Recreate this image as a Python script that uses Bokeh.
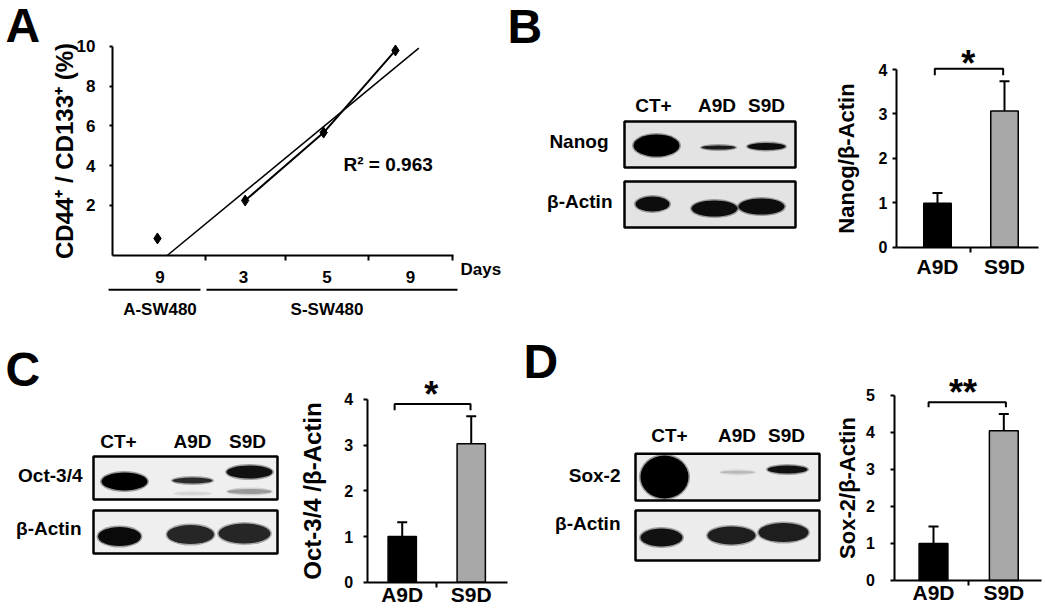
from bokeh.plotting import figure
from bokeh.layouts import row, column
from bokeh.models import Range1d, FixedTicker, Whisker, TeeHead, ColumnDataSource
from bokeh.core.properties import value
from bokeh.embed import file_html
from bokeh.resources import INLINE

FONT = "Liberation Sans"

# ---------------- data ----------------
# Panel A: CD44+/CD133+ cells (%)
day_labels = ["9", "3", "5", "9"]
cell_groups = ["A-SW480", "S-SW480"]
group_of_day = [0, 1, 1, 1]
cd44_cd133_pct = [0.34, 2.25, 5.67, 9.80]
sample_x = [-0.03, 1.02, 1.96, 2.82]
trend_x = [0.086, 3.10]
trend_y = [-0.516, 9.92]
r_squared = 0.963

# Panels B-D: densitometry ratios to beta-actin
bar_groups = ["A9D", "S9D"]
nanog_ratio = [0.99, 3.07]
nanog_sd = [0.23, 0.67]
oct_ratio = [1.00, 3.03]
oct_sd = [0.31, 0.60]
sox_ratio = [1.00, 4.05]
sox_sd = [0.46, 0.45]

lanes = ["CT+", "A9D", "S9D"]


# ---------------- helpers ----------------
def base_fig(**kw):
    p = figure(output_backend="svg", toolbar_location=None, min_border=0, **kw)
    p.outline_line_color = None
    p.background_fill_color = "white"
    p.border_fill_color = "white"
    for g in p.xgrid + p.ygrid:
        g.visible = False
    return p


def style_axis(ax, size):
    ax.axis_line_width = 2
    ax.axis_line_color = "black"
    ax.major_tick_line_width = 2
    ax.minor_tick_line_width = 2
    ax.major_tick_line_color = "black"
    ax.minor_tick_line_color = "black"
    ax.major_tick_in = 0
    ax.minor_tick_in = 0
    ax.major_label_text_font = FONT
    ax.major_label_text_font_style = "bold"
    ax.major_label_text_font_size = size
    ax.major_label_text_color = "black"
    ax.axis_label_text_font = FONT
    ax.axis_label_text_font_style = "bold"
    ax.axis_label_text_color = "black"


def add_text(p, xs, ys, texts, size, align="center"):
    p.text(x=xs, y=ys, text=texts, text_font=value(FONT), text_font_style="bold",
           text_font_size=size, text_align=align, text_baseline="middle",
           text_color="black")


def band(p, x, y, w, h, color):
    r = min(h / 2.0, w / 2.0)
    try:
        p.quad(left=[x - w / 2 - 1.5], right=[x + w / 2 + 1.5], top=[y - h / 2 - 1.5],
               bottom=[y + h / 2 + 1.5], fill_color=color, fill_alpha=0.35,
               line_color=None, border_radius=r + 1.5)
        p.quad(left=[x - w / 2], right=[x + w / 2], top=[y - h / 2], bottom=[y + h / 2],
               fill_color=color, line_color=None, border_radius=r)
    except Exception:
        p.ellipse(x=[x], y=[y], width=w + 3, height=h + 3, fill_color=color,
                  fill_alpha=0.35, line_color=None)
        p.ellipse(x=[x], y=[y], width=w, height=h, fill_color=color, line_color=None)


def blot_fig(width, height, xr, yr, spec):
    p = base_fig(width=width, height=height, x_range=Range1d(*xr), y_range=Range1d(*yr),
                 x_axis_type=None, y_axis_type=None)
    letter, lx, ly = spec["letter"]
    add_text(p, [lx], [ly], [letter], "48px", align="left")
    add_text(p, spec["lane_x"], [spec["lane_y"]] * len(lanes), lanes, "19px")
    for r in spec["rows"]:
        l, rr, t, b = r["box"]
        p.quad(left=[l], right=[rr], top=[t], bottom=[b], fill_color=r["fill"],
               line_color=None)
        for bd in r["bands"]:
            band(p, *bd)
        p.quad(left=[l], right=[rr], top=[t], bottom=[b], fill_color=None,
               line_color="black", line_width=2.5)
        add_text(p, [r["label_x"]], [r["label_y"]], [r["label"]], "19px", align="right")
    return p


def bar_fig(width, height, xr, yr, y_axis_at, x_axis_end, ratio, sd, ylabel,
            ylabel_size, yticks, tick_standoff, label_standoff, x_standoff, bracket,
            star, star_text):
    p = base_fig(width=width, height=height, x_range=Range1d(*xr), y_range=Range1d(*yr))
    xs = [1, 2]
    p.vbar(x=xs, top=ratio, bottom=0, width=0.41, fill_color=["black", "#a8a8a8"],
           line_color="black", line_width=1.5)
    src = ColumnDataSource(dict(x=xs, lower=ratio,
                                upper=[v + e for v, e in zip(ratio, sd)]))
    p.add_layout(Whisker(source=src, base="x", lower="lower", upper="upper",
                         line_width=2, line_color="black", lower_head=None,
                         upper_head=TeeHead(size=10, line_width=2, line_color="black")))
    x1, x2, lo, hi = bracket
    p.line(x=[x1, x1, x2, x2], y=[lo, hi, hi, lo], line_width=2, color="black")
    add_text(p, [star[0]], [star[1]], [star_text], "36px")

    ya = p.yaxis[0]
    xa = p.xaxis[0]
    style_axis(ya, "16px")
    style_axis(xa, "21px")
    ya.fixed_location = y_axis_at
    ya.ticker = FixedTicker(ticks=yticks, minor_ticks=[])
    ya.bounds = (yticks[0], yticks[-1])
    ya.major_tick_out = 4
    ya.minor_tick_out = 0
    ya.major_label_standoff = tick_standoff
    ya.axis_label = ylabel
    ya.axis_label_text_font_size = ylabel_size
    ya.axis_label_standoff = label_standoff
    xa.fixed_location = 0
    xa.bounds = (y_axis_at, x_axis_end)
    xa.ticker = FixedTicker(ticks=xs, minor_ticks=[1.5])
    xa.major_label_overrides = {x: g for x, g in zip(xs, bar_groups)}
    xa.major_tick_out = 0
    xa.minor_tick_out = 5
    xa.major_label_standoff = x_standoff
    return p


# ---------------- Panel A ----------------
pA = base_fig(width=505, height=318, x_range=Range1d(-1.910, 4.138),
              y_range=Range1d(-3.686, 12.314))
ya = pA.yaxis[0]
xa = pA.xaxis[0]
style_axis(ya, "17px")
style_axis(xa, "17px")
ya.fixed_location = -0.569
ya.bounds = (-0.516, 10)
ya.ticker = FixedTicker(ticks=[2, 4, 6, 8, 10], minor_ticks=[])
ya.major_tick_out = 3
ya.minor_tick_out = 0
ya.major_label_standoff = 14
ya.axis_label = "CD44⁺ / CD133⁺ (%)"
ya.axis_label_text_font_size = "24px"
ya.axis_label_standoff = -4
xa.fixed_location = -0.516
xa.bounds = (-0.569, 3.515)
xa.ticker = FixedTicker(ticks=[0, 1, 2, 3], minor_ticks=[0.55, 1.5, 2.5, 3.5])
xa.major_label_overrides = {i: d for i, d in enumerate(day_labels)}
xa.major_tick_out = 0
xa.minor_tick_out = 5
xa.major_label_standoff = 11

pA.line(trend_x, trend_y, line_width=1.5, color="black")
pA.line(sample_x[1:], cd44_cd133_pct[1:], line_width=2, color="black")
pA.scatter(sample_x, cd44_cd133_pct, marker="diamond", size=11, color="black")

group_spans = [(-0.616, 0.485), (0.557, 3.563)]
pA.segment(x0=[s[0] for s in group_spans], y0=[-2.24] * 2,
           x1=[s[1] for s in group_spans], y1=[-2.24] * 2, line_width=2, color="black")
group_centers = []
for g in range(len(cell_groups)):
    idx = [i for i, gg in enumerate(group_of_day) if gg == g]
    group_centers.append(sum(idx) / len(idx))
add_text(pA, group_centers, [-3.243] * 2, cell_groups, "17px")
add_text(pA, [3.60], [-1.22], ["Days"], "17px", align="left")
add_text(pA, [2.198], [4.08], [f"R\u00b2 = {r_squared:.3f}"], "19px", align="left")
add_text(pA, [-1.850], [11.08], ["A"], "48px", align="left")

# ---------------- Panel B ----------------
blotB = dict(
    letter=("B", 507, 25.8),
    lane_x=[653, 716.5, 766], lane_y=104.5,
    rows=[
        dict(label="Nanog", label_x=608, label_y=141.2, box=(624, 795, 121, 167),
             fill="#e3e3e3",
             bands=[(656, 145, 46, 22, "#000000"), (718, 147, 34, 4, "#1a1a1a"),
                    (766, 146, 38, 7, "#0d0d0d")]),
        dict(label="β-Actin", label_x=612, label_y=201.2, box=(624, 795, 181, 227),
             fill="#e3e3e3",
             bands=[(652, 203.5, 34, 15, "#0d0d0d"), (714, 208, 46, 16, "#0d0d0d"),
                    (761, 206, 46, 16, "#0d0d0d")]),
    ])
pBb = blot_fig(315, 318, (505, 820), (318, 0), blotB)
pBbar = bar_fig(225, 318, (-0.746, 2.612), (-1.606, 5.556), 0.388, 2.507,
                nanog_ratio, nanog_sd, "Nanog/β-Actin", "22px", [0, 1, 2, 3, 4],
                5, 17, 3, (0.96, 1.98, 3.87, 4.02), (1.46, 4.137), "*")

# ---------------- Panel C ----------------
blotC = dict(
    letter=("C", 5, 369),
    lane_x=[118, 192, 247], lane_y=440.8,
    rows=[
        dict(label="Oct-3/4", label_x=82, label_y=474.9, box=(93, 277, 456, 499),
             fill="#efefef",
             bands=[(124, 481, 46, 18, "#000000"), (192, 480, 40, 6, "#2b2b2b"),
                    (249, 471.5, 46, 13, "#111111"), (249, 491, 44, 5, "#9a9a9a"),
                    (192, 493, 36, 3, "#d5d5d5")]),
        dict(label="β-Actin", label_x=81, label_y=528.2, box=(93, 277, 510, 553),
             fill="#efefef",
             bands=[(119, 536, 43, 19, "#0a0a0a"), (190, 534, 47, 19, "#262626"),
                    (244, 533, 52, 20, "#262626")]),
    ])
pCb = blot_fig(290, 292, (0, 290), (610, 318), blotC)
pCbar = bar_fig(230, 292, (-0.619, 2.714), (-0.619, 5.770), 0.493, 2.526,
                oct_ratio, oct_sd, "Oct-3/4 /β-Actin", "24px", [0, 1, 2, 3, 4],
                10, 16, -4, (0.89, 1.99, 3.76, 3.90), (1.42, 4.107), "*")

# ---------------- Panel D ----------------
blotD = dict(
    letter=("D", 523, 361),
    lane_x=[669, 736.5, 786], lane_y=434.8,
    rows=[
        dict(label="Sox-2", label_x=620, label_y=474.9, box=(635, 819, 453.3, 500),
             fill="#ececec",
             bands=[(664, 476.5, 48, 43, "#000000"), (737, 471.7, 34, 3, "#b8b8b8"),
                    (787, 469, 40, 8, "#111111")]),
        dict(label="β-Actin", label_x=620, label_y=523.2, box=(635, 819, 510, 560),
             fill="#ececec",
             bands=[(661, 537, 42, 18, "#111111"), (731, 535, 48, 18, "#1e1e1e"),
                    (783, 532, 50, 19, "#1e1e1e")]),
    ])
pDb = blot_fig(305, 292, (520, 825), (610, 318), blotD)
pDbar = bar_fig(220, 292, (-0.536, 2.593), (-0.811, 7.081), 0.452, 2.54,
                sox_ratio, sox_sd, "Sox-2/β-Actin", "22px", [0, 1, 2, 3, 4, 5],
                16, 3, -4, (0.93, 2.03, 4.68, 4.82), (1.42, 5.07), "**")

layout = column(row(pA, pBb, pBbar), row(pCb, pCbar, pDb, pDbar))
open("out.html", "w").write(file_html(layout, INLINE, title="Stemness markers"))
